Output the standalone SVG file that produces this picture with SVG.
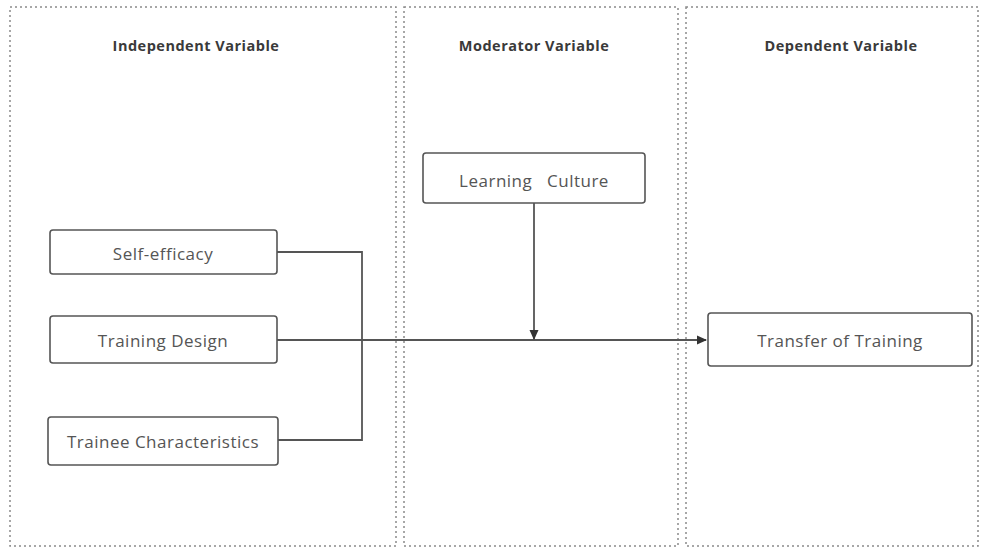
<svg xmlns="http://www.w3.org/2000/svg" width="982" height="552" viewBox="0 0 982 552">
<style>
.panel{fill:none;stroke:#8a8a8a;stroke-width:1.5;stroke-dasharray:2 3}
.head{font-family:"Open Sans","Noto Sans",sans-serif;font-size:14.5px;font-weight:bold;letter-spacing:0.5px;fill:#3a3a3a;text-anchor:middle}
.box{fill:#fff;stroke:#555;stroke-width:1.6}
.lbl{font-family:"Open Sans","Noto Sans",sans-serif;font-size:17px;letter-spacing:0.5px;fill:#555;text-anchor:middle;dominant-baseline:central}
.wire{fill:none;stroke:#555;stroke-width:1.8}
</style>
<defs>
<marker id="arr" markerWidth="10" markerHeight="10" refX="9" refY="5" orient="auto" markerUnits="userSpaceOnUse">
<path d="M0,0.5 L10,5 L0,9.5 Z" fill="#333"/>
</marker>
</defs>
<rect width="982" height="552" fill="#fff"/>
<g id="panel-independent">
<rect class="panel" x="10" y="7" width="386" height="539"/>
<text class="head" x="196" y="51">Independent Variable</text>
</g>
<g id="panel-moderator">
<rect class="panel" x="404" y="7" width="274" height="539"/>
<text class="head" x="534" y="51">Moderator Variable</text>
</g>
<g id="panel-dependent">
<rect class="panel" x="686" y="7" width="292" height="539"/>
<text class="head" x="841" y="51">Dependent Variable</text>
</g>
<g id="connectors">
<polyline class="wire" points="277,252 362,252 362,440 278,440"/>
<line class="wire" x1="277" y1="340" x2="706" y2="340" stroke-width="2.2" marker-end="url(#arr)"/>
<line class="wire" x1="534" y1="203" x2="534" y2="339" marker-end="url(#arr)"/>
</g>
<g id="node-self-efficacy">
<rect class="box" x="50" y="230" width="227" height="44" rx="3"/>
<text class="lbl" x="163" y="253">Self-efficacy</text>
</g>
<g id="node-training-design">
<rect class="box" x="50" y="316" width="227" height="47" rx="3"/>
<text class="lbl" x="163" y="340">Training Design</text>
</g>
<g id="node-trainee-characteristics">
<rect class="box" x="48" y="417" width="230" height="48" rx="3"/>
<text class="lbl" x="163" y="441">Trainee Characteristics</text>
</g>
<g id="node-learning-culture">
<rect class="box" x="423" y="153" width="222" height="50" rx="3"/>
<text class="lbl" x="534" y="180" xml:space="preserve">Learning   Culture</text>
</g>
<g id="node-transfer">
<rect class="box" x="708" y="313" width="264" height="53" rx="3"/>
<text class="lbl" x="840" y="340">Transfer of Training</text>
</g>
</svg>
